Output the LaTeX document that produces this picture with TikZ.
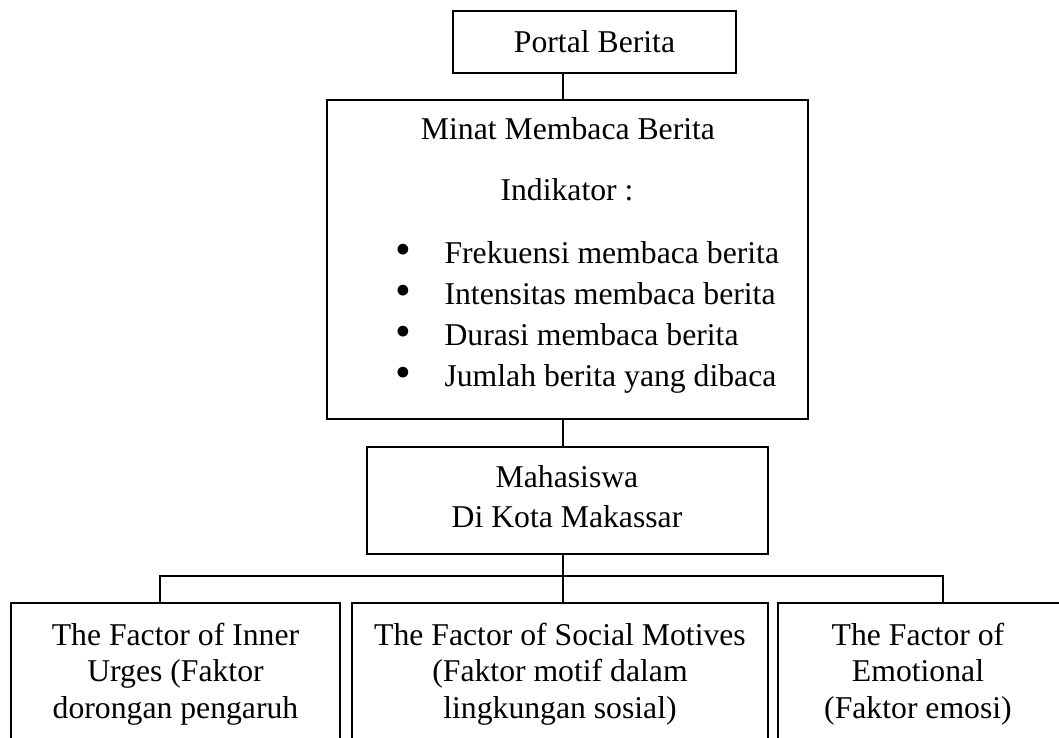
\documentclass[tikz,border=0pt]{standalone}
\usepackage{fontspec}
\setmainfont{Liberation Serif}
\usetikzlibrary{positioning,calc}

\newdimen\pxu
\pxu=0.3785pt

\begin{document}
\begin{tikzpicture}[
  x=0.3785pt, y=-0.3785pt,
  box/.style={draw, line width=0.7pt, inner sep=0pt},
  txt/.style={anchor=base, align=center, inner sep=0pt, font=\fontsize{12}{13.8}\selectfont},
  link/.style={line width=0.45pt}
]
  \clip (0,0) rectangle (1059,737);

  % Boxes
  \node[box, minimum width=283*\pxu, minimum height=62*\pxu] (portal) at (594.5,42) {};
  \node[box, minimum width=481*\pxu, minimum height=319*\pxu] (minat) at (567.5,259.5) {};
  \node[box, minimum width=401*\pxu, minimum height=107*\pxu] (mhs) at (567.5,500.5) {};
  \node[box, minimum width=329*\pxu, minimum height=197*\pxu] (fInner) at (175.5,701.5) {};
  \node[box, minimum width=416*\pxu, minimum height=197*\pxu] (fSocial) at (560,701.5) {};
  \node[box, minimum width=284*\pxu, minimum height=197*\pxu] (fEmo) at (920,701.5) {};

  % Texts (multi-line nodes sit on their last baseline)
  \node[txt] (portalT) at (594.5,52) {Portal Berita};
  \node[txt] (minatT) at (568,139) {Minat Membaca Berita};
  \node[txt] (indT) at (567,200) {Indikator :};
  \foreach \y/\item [count=\i] in {263/Frekuensi membaca berita, 304/Intensitas membaca berita,
      345/Durasi membaca berita, 386/Jumlah berita yang dibaca} {
    \node[txt, anchor=center, font=\fontsize{17}{17}\selectfont] (dot\i) at (403,\y-9) {\textbullet};
    \node[txt, anchor=base west] (ind\i) at (444,\y) {\item};
  }
  \node[txt, font=\fontsize{12}{14.8}\selectfont] (mhsT) at (567,527) {Mahasiswa\\Di Kota Makassar};
  \node[txt] (fInnerT) at (175.5,718) {The Factor of Inner\\Urges (Faktor\\dorongan pengaruh};
  \node[txt] (fSocialT) at (560,718) {The Factor of Social Motives\\(Faktor motif dalam\\lingkungan sosial)};
  \node[txt] (fEmoT) at (918,718) {The Factor of\\Emotional\\(Faktor emosi)};

  % Connectors
  \coordinate (bus) at (563,576);
  \coordinate (busL) at (160,576);
  \coordinate (busR) at (943,576);
  \draw[link] (portal.south -| bus) -- (minat.north -| bus);
  \draw[link] (minat.south -| bus) -- (mhs.north -| bus);
  \draw[link] (mhs.south -| bus) -- (bus) -- (fSocial.north -| bus);
  \draw[link] (fInner.north -| busL) -- (busL) -- (busR) -- (fEmo.north -| busR);

\end{tikzpicture}
\end{document}
